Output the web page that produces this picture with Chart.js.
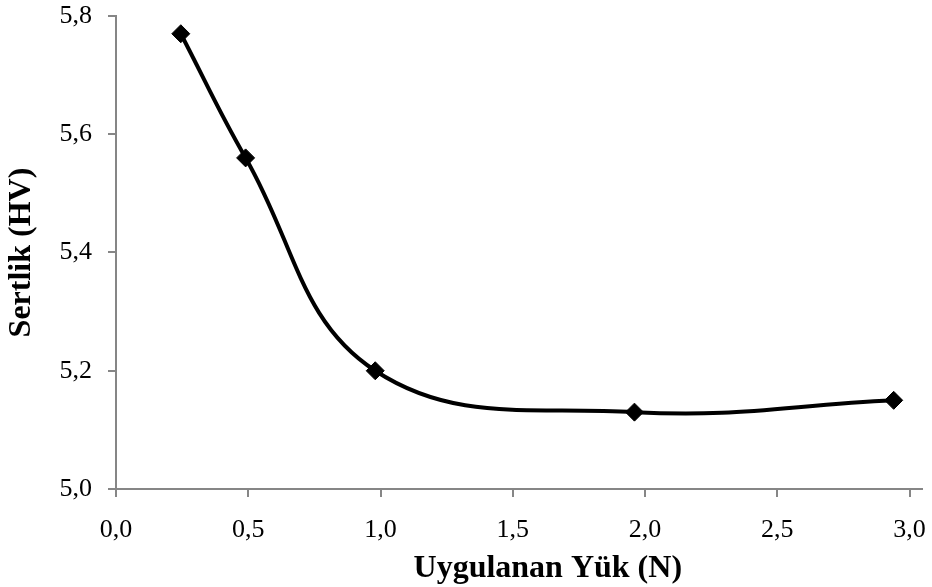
<!DOCTYPE html>
<html>
<head>
<meta charset="utf-8">
<script src="https://cdn.jsdelivr.net/npm/chart.js@4"></script>
<style>
  html, body { margin: 0; padding: 0; background: #fff; }
  #wrap { width: 932px; height: 587px; }
</style>
</head>
<body>
<div id="wrap"><canvas id="c" width="932" height="587"></canvas></div>
<script>
// Uygulanan yük (N) ve sertlik (HV) değerleri
const yukN = [0.245, 0.49, 0.98, 1.96, 2.94];
const sertlikHV = [5.77, 5.56, 5.20, 5.13, 5.15];
const xTicks = [0, 0.5, 1.0, 1.5, 2.0, 2.5, 3.0];
const yTicks = [5.0, 5.2, 5.4, 5.6, 5.8];
const xTitle = 'Uygulanan Yük (N)';
const yTitle = 'Sertlik (HV)';

const FONT = "'Liberation Serif', 'Times New Roman', serif";
const AXIS_GRAY = '#868686';

const points = yukN.map((x, i) => ({ x, y: sertlikHV[i] }));
const fmt = v => v.toFixed(1).replace('.', ',');

// x ekseni başlığı (Excel'deki gibi biraz sağa kaymış)
const xTitlePlugin = {
  id: 'xTitle',
  afterDraw(chart) {
    const { ctx, scales } = chart;
    const x = scales.x;
    ctx.save();
    ctx.font = `bold 32px ${FONT}`;
    ctx.fillStyle = '#000';
    ctx.textAlign = 'center';
    ctx.textBaseline = 'middle';
    ctx.fillText(xTitle, x.getPixelForValue(1.5) + 35, 569);
    ctx.restore();
  }
};

new Chart(document.getElementById('c'), {
  type: 'line',
  data: {
    datasets: [{
      data: points,
      borderColor: '#000',
      borderWidth: 4,
      tension: 0.4,
      pointStyle: 'rectRot',
      pointRadius: 9,
      pointBackgroundColor: '#000',
      pointBorderColor: '#000',
      pointBorderWidth: 1,
      fill: false
    }]
  },
  plugins: [xTitlePlugin],
  options: {
    responsive: false,
    animation: false,
    layout: { padding: { left: 0, right: 0, top: 16, bottom: 0 } },
    plugins: { legend: { display: false }, tooltip: { enabled: false } },
    scales: {
      x: {
        type: 'linear',
        min: 0, max: 3.047,
        afterBuildTicks: s => { s.ticks = xTicks.map(v => ({ value: v })); },
        afterFit: s => { s.height = 98; s.paddingLeft = 0; s.paddingRight = 0; },
        grid: { drawOnChartArea: false, color: AXIS_GRAY, tickLength: 8, lineWidth: 2 },
        border: { color: AXIS_GRAY, width: 2 },
        ticks: {
          color: '#000', padding: 18,
          font: { family: FONT, size: 26 },
          callback: v => fmt(v), maxRotation: 0
        }
      },
      y: {
        min: 5.0, max: 5.8,
        afterBuildTicks: s => { s.ticks = yTicks.map(v => ({ value: v })); },
        afterFit: s => { s.width = 116; s.paddingTop = 0; s.paddingBottom = 0; },
        grid: { drawOnChartArea: false, color: AXIS_GRAY, tickLength: 8, lineWidth: 2 },
        border: { color: AXIS_GRAY, width: 2 },
        ticks: {
          color: '#000', padding: 16,
          font: { family: FONT, size: 26 },
          callback: v => fmt(v)
        },
        title: {
          display: true, text: yTitle, color: '#000',
          font: { family: FONT, size: 32, weight: 'bold' },
          padding: { top: 3, bottom: 0 }
        }
      }
    }
  }
});
</script>
</body>
</html>
